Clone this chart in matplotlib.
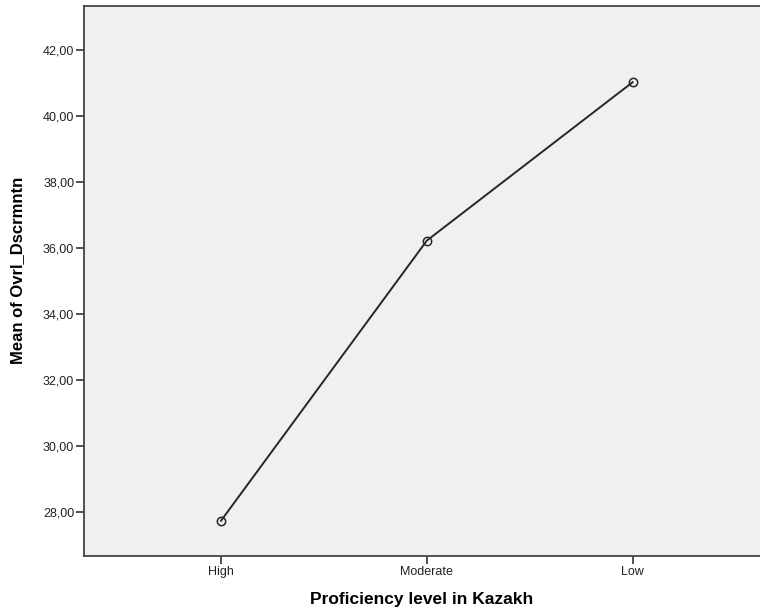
import matplotlib
matplotlib.use("Agg")
import matplotlib.pyplot as plt
from matplotlib.ticker import FuncFormatter

categories = ["High", "Moderate", "Low"]
means = [27.73, 36.22, 41.02]
y_ticks = [28, 30, 32, 34, 36, 38, 40, 42]

plt.rcParams['font.family'] = ['Liberation Sans', 'DejaVu Sans']

fig = plt.figure(figsize=(7.6, 6.14), dpi=100)
ax = fig.add_axes([84/760, 58/614, 1 - 84/760, (556-6)/614])
ax.set_facecolor('#f0f0f0')

x = list(range(len(categories)))
ax.plot(x, means, color='#262626', linewidth=1.4, marker='o', markersize=6,
        markerfacecolor='none', markeredgecolor='#262626', markeredgewidth=1.1)

ax.set_xlim(-0.666, 2.619)
ax.set_ylim(26.66, 43.33)
ax.set_xticks(x)
ax.set_xticklabels(categories)
ax.set_yticks(y_ticks)
ax.yaxis.set_major_formatter(FuncFormatter(lambda v, p: f"{v:.2f}".replace('.', ',')))

for s in ['left', 'bottom', 'top']:
    ax.spines[s].set_color('#444444')
    ax.spines[s].set_linewidth(1.3)
ax.spines['right'].set_visible(False)

ax.tick_params(axis='both', direction='out', length=5.5, width=1.1, color='#222222',
               labelsize=9, labelcolor='#222222', pad=1.5)

ax.set_xlabel("Proficiency level in Kazakh", fontsize=12.5, fontweight='bold', labelpad=10)
ax.set_ylabel("Mean of Ovrl_Dscrmntn", fontsize=12, fontweight='bold',
              va='center', ha='center')
ax.yaxis.set_label_coords(-0.0976, 0.52)

fig.savefig("out.png", dpi=100)
